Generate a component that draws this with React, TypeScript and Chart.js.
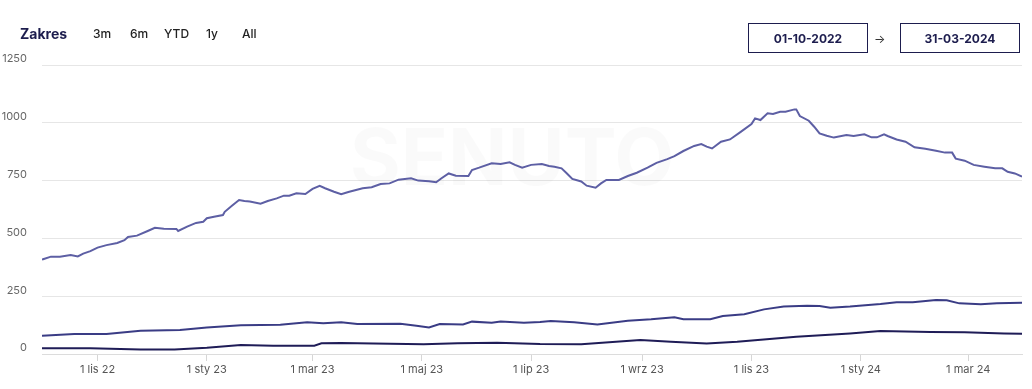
import React, { useEffect, useRef } from "react";
import { Chart, registerables } from "chart.js";

Chart.register(...registerables);

// Day index 0 = 01-10-2022, last = 31-03-2024 (547)
const totalDays = 547;

const tickDays = [31, 92, 151, 212, 273, 335, 396, 457, 517];
const tickLabels = ["1 lis 22", "1 sty 23", "1 mar 23", "1 maj 23", "1 lip 23", "1 wrz 23", "1 lis 23", "1 sty 24", "1 mar 24"];

const yTicks = [0, 250, 500, 750, 1000, 1250];

const topDays = [0, 1, 5, 10, 16, 20, 23, 27, 31, 36, 42, 46, 48, 53, 59, 63, 68, 75, 76, 81, 86, 90, 92, 96, 101, 102, 106, 110, 113, 116, 122, 126, 131, 135, 138, 142, 147, 151, 155, 158, 163, 167, 171, 179, 184, 189, 194, 199, 206, 210, 216, 220, 223, 227, 231, 238, 240, 244, 251, 256, 261, 264, 268, 273, 279, 283, 286, 290, 293, 296, 301, 304, 309, 312, 315, 322, 327, 332, 338, 343, 349, 353, 358, 364, 368, 371, 374, 379, 384, 390, 396, 398, 401, 405, 408, 412, 415, 420, 421, 423, 428, 431, 434, 438, 442, 449, 453, 459, 463, 466, 470, 472, 477, 482, 487, 493, 499, 504, 508, 510, 515, 520, 526, 532, 536, 539, 543, 547];
const topValues = [408, 411, 421, 421, 428, 422, 434, 445, 460, 471, 480, 492, 506, 512, 532, 546, 542, 541, 532, 551, 567, 572, 587, 594, 601, 615, 641, 666, 662, 660, 650, 662, 673, 685, 685, 695, 692, 714, 727, 717, 702, 691, 701, 717, 721, 735, 738, 754, 760, 750, 747, 743, 760, 781, 771, 770, 796, 806, 825, 822, 829, 818, 806, 818, 822, 813, 810, 803, 781, 757, 746, 728, 719, 738, 753, 753, 770, 784, 806, 827, 843, 856, 878, 900, 908, 897, 889, 918, 928, 961, 995, 1019, 1012, 1041, 1038, 1048, 1048, 1058, 1058, 1029, 1009, 983, 954, 944, 936, 947, 943, 950, 937, 937, 950, 943, 928, 918, 894, 888, 879, 871, 871, 845, 836, 818, 810, 803, 803, 788, 781, 767];

const midDays = [0, 18, 36, 55, 77, 92, 111, 133, 148, 157, 167, 176, 200, 209, 216, 222, 235, 240, 251, 256, 269, 278, 284, 297, 310, 327, 340, 353, 358, 373, 380, 392, 403, 414, 427, 434, 440, 451, 468, 477, 486, 499, 505, 512, 524, 533, 547];
const midValues = [79, 86, 86, 101, 104, 115, 124, 127, 137, 133, 137, 130, 131, 122, 115, 130, 128, 140, 135, 141, 135, 138, 143, 137, 128, 144, 150, 159, 150, 150, 164, 172, 193, 205, 209, 208, 200, 205, 216, 224, 224, 234, 232, 219, 215, 219, 222];

const lowDays = [0, 27, 55, 74, 92, 111, 129, 152, 156, 167, 185, 213, 232, 254, 278, 301, 334, 351, 371, 388, 421, 451, 468, 496, 515, 537, 547];
const lowValues = [25, 25, 20, 20, 27, 39, 36, 36, 46, 48, 45, 42, 46, 49, 43, 42, 61, 53, 45, 53, 75, 89, 99, 95, 94, 89, 88];

const FONT = "Inter, 'Open Sans', sans-serif";

const toPoints = (days: number[], vals: number[]) => days.map((d, i) => ({ x: d, y: vals[i] }));

const watermark = {
  id: "watermark",
  beforeDatasetsDraw(chart: any) {
    const { ctx, chartArea } = chart;
    ctx.save();
    ctx.font = `bold 78px ${FONT}`;
    ctx.fillStyle = "rgba(0,0,0,0.018)";
    ctx.textAlign = "center";
    ctx.textBaseline = "middle";
    const cx = (chartArea.left + chartArea.right) / 2 - 20;
    ctx.fillText("SENUTO", cx, 162);
    ctx.restore();
  },
};

export default function App() {
  const ref = useRef<HTMLCanvasElement | null>(null);

  useEffect(() => {
    if (!ref.current) return;
    const chart = new Chart(ref.current, {
      type: "line",
      data: {
        datasets: [
          {
            label: "A",
            data: toPoints(topDays, topValues),
            borderColor: "#5d5fa4",
            borderWidth: 2,
            pointRadius: 0,
            tension: 0,
          },
          {
            label: "B",
            data: toPoints(midDays, midValues),
            borderColor: "#3a3c85",
            borderWidth: 2,
            pointRadius: 0,
            tension: 0,
          },
          {
            label: "C",
            data: toPoints(lowDays, lowValues),
            borderColor: "#1f1c57",
            borderWidth: 2,
            pointRadius: 0,
            tension: 0,
          },
        ],
      },
      options: {
        animation: false,
        responsive: false,
        maintainAspectRatio: false,
        layout: { padding: { top: 65, right: 10, left: 0, bottom: 0 } },
        plugins: { legend: { display: false }, tooltip: { enabled: false } },
        scales: {
          x: {
            type: "linear",
            min: 0,
            max: totalDays,
            afterBuildTicks: (scale: any) => {
              scale.ticks = tickDays.map((v) => ({ value: v }));
            },
            afterFit: (scale: any) => {
              scale.height = 35;
            },
            ticks: {
              autoSkip: false,
              maxRotation: 0,
              padding: 2,
              color: "#555",
              font: { family: FONT, size: 11 },
              callback: (v: any) => {
                const i = tickDays.indexOf(Number(v));
                return i >= 0 ? tickLabels[i] : "";
              },
            },
            grid: {
              drawOnChartArea: false,
              drawTicks: true,
              tickLength: 7,
              color: "#d6d6d6",
            },
            border: { display: true, color: "#dcdcdc" },
          },
          y: {
            min: 0,
            max: 1250,
            afterBuildTicks: (scale: any) => {
              scale.ticks = yTicks.map((v) => ({ value: v }));
            },
            afterFit: (scale: any) => {
              scale.width = 42;
            },
            ticks: {
              padding: 15,
              labelOffset: -6,
              color: "#666",
              font: { family: FONT, size: 11 },
              callback: (v: any) => String(v),
            },
            grid: { drawTicks: false, color: "#e6e6e6" },
            border: { display: false },
          },
        },
      },
      plugins: [watermark],
    });
    return () => chart.destroy();
  }, []);

  const dark = "#1d1d4e";
  const small: React.CSSProperties = {
    position: "absolute",
    top: 26,
    fontFamily: FONT,
    fontSize: 12,
    fontWeight: 500,
    color: "#222",
    lineHeight: "16px",
  };
  const box: React.CSSProperties = {
    position: "absolute",
    top: 23,
    width: 118,
    height: 28,
    border: `1px solid ${dark}`,
    display: "flex",
    alignItems: "center",
    justifyContent: "center",
    fontFamily: FONT,
    fontSize: 12,
    fontWeight: 700,
    color: dark,
    boxSizing: "content-box",
  };

  return (
    <div style={{ position: "fixed", left: 0, top: 0, width: 1032, height: 389, background: "#fff", overflow: "hidden" }}>
      <canvas ref={ref} width={1032} height={389} style={{ position: "absolute", left: 0, top: 0, width: 1032, height: 389 }} />
      <div style={{ position: "absolute", left: 20, top: 25, fontFamily: FONT, fontSize: 14, fontWeight: 700, color: dark, lineHeight: "18px" }}>Zakres</div>
      <div style={{ ...small, left: 93 }}>3m</div>
      <div style={{ ...small, left: 130 }}>6m</div>
      <div style={{ ...small, left: 164 }}>YTD</div>
      <div style={{ ...small, left: 206 }}>1y</div>
      <div style={{ ...small, left: 242 }}>All</div>
      <div style={{ ...box, left: 748 }}>01-10-2022</div>
      <div style={{ position: "absolute", left: 874, top: 31, fontFamily: FONT, fontSize: 12, color: "#333", lineHeight: "16px" }}>→</div>
      <div style={{ ...box, left: 900 }}>31-03-2024</div>
    </div>
  );
}
